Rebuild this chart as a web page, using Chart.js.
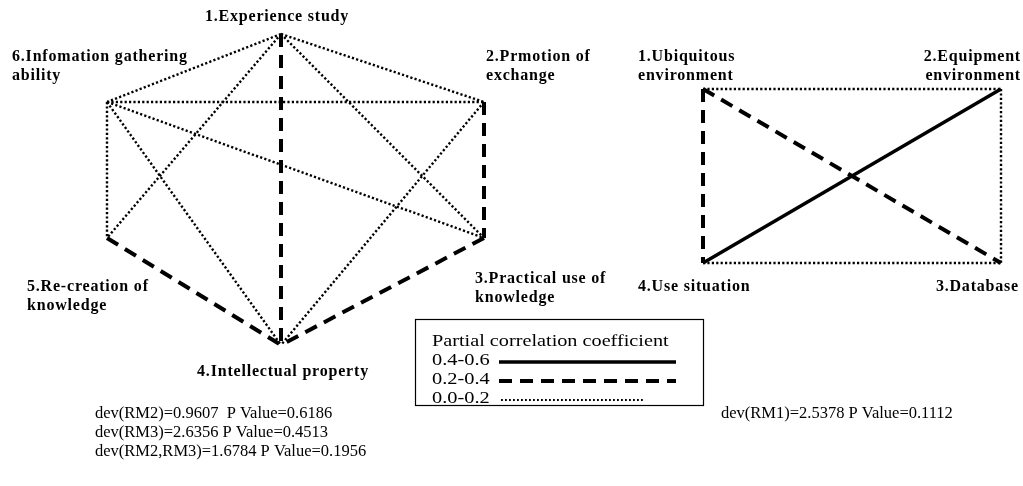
<!DOCTYPE html>
<html>
<head>
<meta charset="utf-8">
<script src="https://cdn.jsdelivr.net/npm/chart.js@4/dist/chart.umd.min.js"></script>
<style>
  html, body { margin: 0; padding: 0; background: #fff; }
  #c { display: block; }
</style>
</head>
<body>
<canvas id="c" width="1023" height="486"></canvas>
<script>
/* Partial correlation networks: left = 6 factors (RM2/RM3), right = 4 factors (RM1) */

// left network nodes
const leftNames = [
    ['1.Experience study'],
    ['2.Prmotion of', 'exchange'],
    ['3.Practical use of', 'knowledge'],
    ['4.Intellectual property'],
    ['5.Re-creation of', 'knowledge'],
    ['6.Infomation gathering', 'ability']
];
const leftX = [281, 484, 484, 281, 107, 107];
const leftY = [34, 102, 238, 345, 238, 102];
const leftEdges = [[1, 2], [1, 3], [1, 4], [1, 5], [1, 6], [2, 3], [2, 4], [6, 2], [3, 4], [6, 3], [5, 4], [6, 4], [6, 5]];
const leftCoef = ['0.0-0.2', '0.0-0.2', '0.2-0.4', '0.0-0.2', '0.0-0.2', '0.2-0.4', '0.0-0.2', '0.0-0.2', '0.2-0.4', '0.0-0.2', '0.2-0.4', '0.0-0.2', '0.0-0.2'];

// right network nodes
const rightNames = [
    ['1.Ubiquitous', 'environment'],
    ['2.Equipment', 'environment'],
    ['3.Database'],
    ['4.Use situation']
];
const rightX = [703, 1001, 1001, 703];
const rightY = [89, 89, 263, 263];
const rightEdges = [[1, 2], [1, 4], [1, 3], [4, 2], [2, 3], [4, 3]];
const rightCoef = ['0.0-0.2', '0.2-0.4', '0.2-0.4', '0.4-0.6', '0.0-0.2', '0.0-0.2'];

const legendTitle = 'Partial correlation coefficient';
const coefClasses = ['0.4-0.6', '0.2-0.4', '0.0-0.2'];

const devLeft = ['dev(RM2)=0.9607  P Value=0.6186', 'dev(RM3)=2.6356 P Value=0.4513', 'dev(RM2,RM3)=1.6784 P Value=0.1956'];
const devRight = ['dev(RM1)=2.5378 P Value=0.1112'];

const lineStyle = {
    '0.4-0.6': { width: 3.5, dash: [] },
    '0.2-0.4': { width: 4, dash: [13, 8] },
    '0.0-0.2': { width: 2.4, dash: [2.2, 2.2] }
};

// label anchors: [x, y of first line, align]
const leftLabelPos = [[277, 17, 'center'], [486, 57, 'left'], [475, 279, 'left'], [283, 372, 'center'], [27, 287, 'left'], [12, 57, 'left']];
const rightLabelPos = [[638, 57, 'left'], [1021, 57, 'right'], [1019, 287, 'right'], [638, 287, 'left']];

function edgeSets(nx, ny, edges, coefs) {
    return edges.map((e, i) => {
        const s = lineStyle[coefs[i]];
        return {
            data: [{ x: nx[e[0] - 1], y: ny[e[0] - 1] }, { x: nx[e[1] - 1], y: ny[e[1] - 1] }],
            showLine: true, fill: false,
            borderColor: '#000', borderWidth: s.width, borderDash: s.dash, borderCapStyle: 'butt',
            pointRadius: 0, pointHoverRadius: 0
        };
    });
}

// text drawn with a horizontal stretch (reference text is wide-set)
function wideText(ctx, t, x, y, sx) {
    ctx.save();
    ctx.translate(x, y);
    ctx.scale(sx, 1);
    ctx.fillText(t, 0, 0);
    ctx.restore();
}

const textPlugin = {
    id: 'texts',
    afterDatasetsDraw(chart) {
        const ctx = chart.ctx;
        ctx.save();
        ctx.fillStyle = '#000';
        ctx.textBaseline = 'middle';

        // node labels
        ctx.font = 'bold 16px "Liberation Serif"';
        ctx.letterSpacing = '0.8px';
        const drawNames = (names, pos) => names.forEach((lines, i) => {
            ctx.textAlign = pos[i][2];
            lines.forEach((t, j) => ctx.fillText(t, pos[i][0], pos[i][1] + j * 19));
        });
        drawNames(leftNames, leftLabelPos);
        drawNames(rightNames, rightLabelPos);
        ctx.letterSpacing = '0px';

        // legend box
        ctx.lineWidth = 1.2;
        ctx.strokeStyle = '#000';
        ctx.setLineDash([]);
        ctx.strokeRect(415.5, 319.5, 288, 86);
        ctx.font = '17px "Liberation Serif"';
        ctx.textAlign = 'left';
        wideText(ctx, legendTitle, 432, 342, 1.19);
        coefClasses.forEach((c, i) => {
            const y = 361 + i * 19;
            wideText(ctx, c, 432, y, 1.2);
            const s = lineStyle[c];
            ctx.beginPath();
            ctx.lineWidth = c === '0.0-0.2' ? 2 : s.width;
            ctx.setLineDash(c === '0.0-0.2' ? [1.8, 2.2] : s.dash);
            ctx.moveTo(c === '0.0-0.2' ? 501 : 499, y + 1);
            ctx.lineTo(c === '0.0-0.2' ? 645 : 676, y + 1);
            ctx.stroke();
        });
        ctx.setLineDash([]);

        // model deviance texts
        ctx.font = '16.5px "Liberation Serif"';
        devLeft.forEach((t, i) => ctx.fillText(t, 95, 414 + i * 19));
        devRight.forEach((t, i) => ctx.fillText(t, 721, 414 + i * 19));
        ctx.restore();
    }
};

new Chart(document.getElementById('c'), {
    type: 'scatter',
    data: { datasets: [...edgeSets(leftX, leftY, leftEdges, leftCoef), ...edgeSets(rightX, rightY, rightEdges, rightCoef)] },
    options: {
        responsive: false, animation: false, devicePixelRatio: 1,
        layout: { padding: 0 },
        plugins: { legend: { display: false }, tooltip: { enabled: false } },
        scales: {
            x: { type: 'linear', min: 0, max: 1023, display: false },
            y: { type: 'linear', min: 0, max: 486, reverse: true, display: false }
        }
    },
    plugins: [textPlugin]
});
</script>
</body>
</html>
